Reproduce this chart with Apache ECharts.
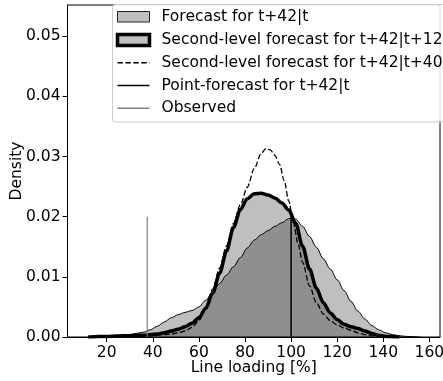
<!DOCTYPE html>
<html><head><meta charset="utf-8">
<script src="https://cdn.jsdelivr.net/npm/echarts@6/dist/echarts.min.js"></script>
<style>html,body{margin:0;padding:0;background:#fff}#c{width:443px;height:381px}</style>
</head><body><div id="c"></div>
<script>
// Forecast for t+42|t
const fcX = [12,15,18,21,24,27,30,33,36,39,42,45,48,51,54,57,60,63,66,69,72,75,78,81,84,87,90,93,96,99,102,105,108,111,114,117,120,123,126,129,132,135,138,141,144,147,150,153,156];
const fcY = [0,0.00005,0.0001,0.0001,0.0002,0.0003,0.0004,0.0006,0.0008,0.0012,0.0018,0.0025,0.0032,0.0037,0.0041,0.0044,0.005,0.0061,0.0075,0.0089,0.0103,0.0117,0.0132,0.0148,0.0161,0.017,0.0177,0.0184,0.019,0.0197,0.0196,0.0184,0.0167,0.0149,0.013,0.0113,0.0095,0.0077,0.0059,0.0043,0.003,0.0019,0.0012,0.0007,0.0004,0.0002,0.0001,0.00005,0];
// Second-level forecast for t+42|t+12
const s12X = [12,15,18,21,24,27,30,33,36,39,42,45,48,51,54,57,60,63,66,69,72,75,78,81,84,87,90,93,96,99,102,105,108,111,114,117,120,123,126,129,132,135,138,141,144,147];
const s12Y = [0,0.00005,0.0001,0.0001,0.00015,0.0002,0.0002,0.0003,0.0003,0.0004,0.0005,0.0007,0.001,0.0013,0.0017,0.0023,0.0032,0.0048,0.0073,0.0106,0.0143,0.0182,0.0212,0.023,0.0238,0.0239,0.0236,0.0231,0.0223,0.0211,0.0189,0.0151,0.0113,0.0081,0.0057,0.004,0.0029,0.0021,0.0017,0.0014,0.001,0.0006,0.0003,0.0001,0.00005,0];
// Second-level forecast for t+42|t+40
const s40X = [21,24,27,30,33,36,39,42,45,48,51,54,57,60,63,66,69,72,75,78,81,84,87,89,91,93,95,97,99,101,103,105,108,111,114,117,120,123,126,129,132,135,138,141];
const s40Y = [0,0.00005,0.0001,0.0001,0.0001,0.0002,0.0002,0.0003,0.0004,0.0005,0.0007,0.001,0.0016,0.0027,0.0048,0.008,0.0115,0.0152,0.0189,0.022,0.0249,0.028,0.0305,0.0313,0.0311,0.0302,0.0287,0.026,0.0226,0.019,0.0155,0.0124,0.0085,0.0057,0.0038,0.0027,0.002,0.0015,0.0011,0.0007,0.0004,0.0002,0.0001,0];
// Point forecast & observed (vertical lines)
const pointX = [100, 100];
const pointY = [0, 0.0199];
const obsX = [37.6, 37.6];
const obsY = [0, 0.02];
// ticks
const xTicks = [20,40,60,80,100,120,140,160];
const yTicks = [0,0.01,0.02,0.03,0.04,0.05];
const legendNames = ['Forecast for t+42|t','Second-level forecast for t+42|t+12','Second-level forecast for t+42|t+40','Point-forecast for t+42|t','Observed'];

const zip = (a,b) => a.map((v,i)=>[v,b[i]]);
const FONT = 'DejaVu Sans';
const FS = 15.5;
const chart = echarts.init(document.getElementById('c'), null, {renderer:'canvas'});

const lx = 117.5, lw = 32, tx = 161.5;
const rows = [16.5, 40, 62.7, 85.5, 108.3];
const legendEls = [
  {type:'rect', shape:{x:112.5,y:4.5,width:345,height:117.5,r:3}, style:{fill:'rgba(255,255,255,0.85)',stroke:'#cccccc',lineWidth:1}},
  {type:'rect', shape:{x:lx,y:rows[0]-5,width:lw,height:10.5}, style:{fill:'#bfbfbf',stroke:'#222',lineWidth:1}},
  {type:'rect', shape:{x:lx,y:rows[1]-5.5,width:lw,height:11}, style:{fill:'#bfbfbf',stroke:'#000',lineWidth:3.5}},
  {type:'line', shape:{x1:lx,y1:rows[2],x2:lx+lw,y2:rows[2]}, style:{stroke:'#000',lineWidth:1.5,lineDash:[5.5,2.4]}},
  {type:'line', shape:{x1:lx,y1:rows[3],x2:lx+lw,y2:rows[3]}, style:{stroke:'#000',lineWidth:1.5}},
  {type:'line', shape:{x1:lx,y1:rows[4],x2:lx+lw,y2:rows[4]}, style:{stroke:'#808080',lineWidth:1.5}}
];
legendNames.forEach((n,i)=>legendEls.push({type:'text', style:{x:tx,y:rows[i],text:n,fill:'#000',font:FS+'px "'+FONT+'"',verticalAlign:'middle',align:'left'}}));

chart.setOption({
  animation:false,
  backgroundColor:'#fff',
  textStyle:{fontFamily:FONT},
  grid:{left:67.5,right:3,top:5,bottom:44,containLabel:false,outerBoundsMode:'none',show:true,borderColor:'#000',borderWidth:1,backgroundColor:'transparent'},
  xAxis:{type:'value',min:3,max:164.6,name:'Line loading [%]',nameLocation:'middle',nameGap:23,nameMoveOverlap:false,
    nameTextStyle:{color:'#000',fontSize:FS,fontFamily:FONT},
    axisLine:{show:true,onZero:false,lineStyle:{color:'#000',width:1}},
    axisTick:{show:true,length:5,lineStyle:{color:'#000'},customValues:xTicks},
    axisLabel:{color:'#000',fontSize:FS,fontFamily:FONT,margin:8,customValues:xTicks,formatter:v=>String(v)},
    splitLine:{show:false}},
  yAxis:{type:'value',min:0,max:0.0552,name:'Density',nameLocation:'middle',nameGap:43,nameMoveOverlap:false,
    nameTextStyle:{color:'#000',fontSize:FS,fontFamily:FONT},
    axisLine:{show:true,lineStyle:{color:'#000',width:1}},
    axisTick:{show:true,length:5,lineStyle:{color:'#000'},customValues:yTicks},
    axisLabel:{color:'#000',fontSize:FS,fontFamily:FONT,margin:7,customValues:yTicks,formatter:v=>v.toFixed(2)},
    splitLine:{show:false}},
  series:[
    {name:legendNames[0],type:'line',data:zip(fcX,fcY),symbol:'none',smooth:0.3,smoothMonotone:'x',
      lineStyle:{color:'#000',width:1},areaStyle:{color:'#000',opacity:0.25,origin:'start'},z:2},
    {name:legendNames[1],type:'line',data:zip(s12X,s12Y),symbol:'none',smooth:0.3,smoothMonotone:'x',
      lineStyle:{color:'#000',width:3.5},areaStyle:{color:'#000',opacity:0.25,origin:'start'},z:3},
    {name:legendNames[2],type:'line',data:zip(s40X,s40Y),symbol:'none',smooth:0.3,smoothMonotone:'x',
      lineStyle:{color:'#000',width:1.3,type:[5.5,2.4]},z:4},
    {name:legendNames[3],type:'line',data:zip(pointX,pointY),symbol:'none',lineStyle:{color:'#000',width:1.5},z:5},
    {name:legendNames[4],type:'line',data:zip(obsX,obsY),symbol:'none',lineStyle:{color:'#808080',width:1.2},z:5}
  ],
  graphic:[{type:'group',z:100,children:legendEls}]
});
</script></body></html>
